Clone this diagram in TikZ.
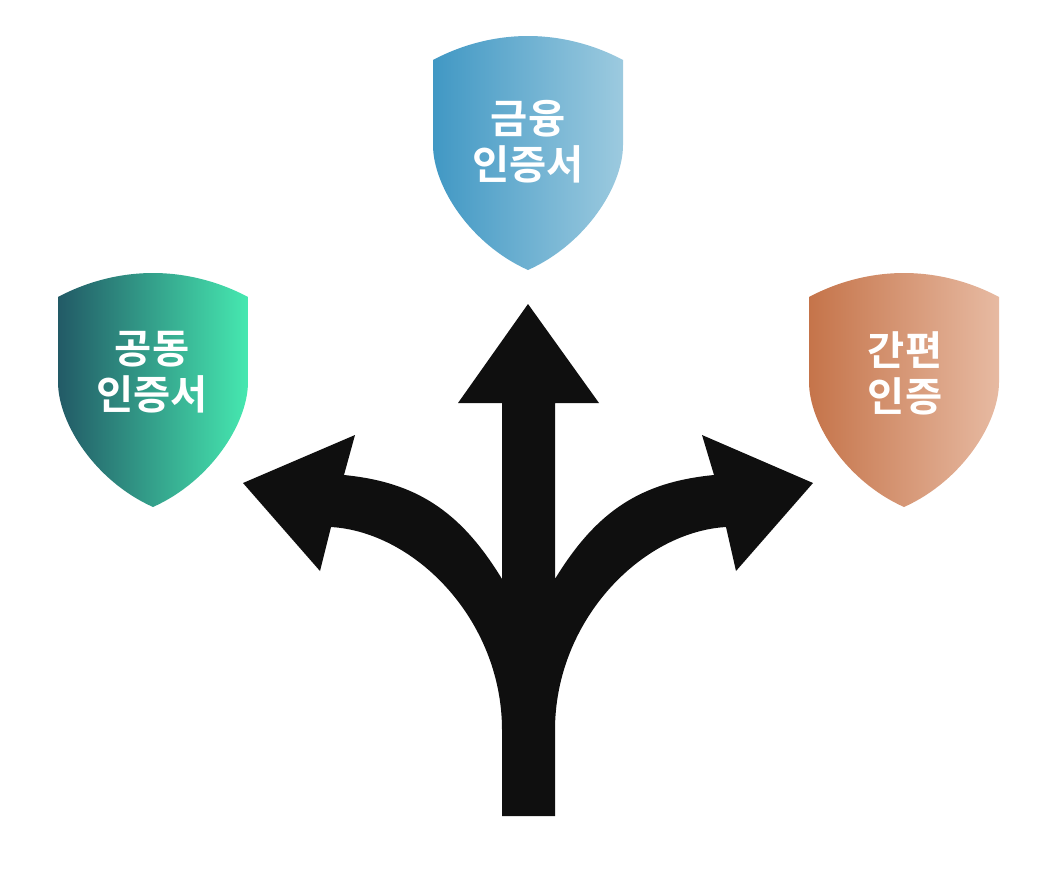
\documentclass[tikz,border=0pt]{standalone}
\usepackage{fontspec}
\setmainfont{Noto Sans CJK KR}[BoldFont={Noto Sans CJK KR Bold}]
\usepackage{xcolor}
\definecolor{arrowblack}{HTML}{0F0F0F}
\definecolor{greenL}{HTML}{225A66}
\definecolor{greenR}{HTML}{46E8B0}
\definecolor{blueL}{HTML}{4198C4}
\definecolor{blueR}{HTML}{9CCADF}
\definecolor{orangeL}{HTML}{C5744A}
\definecolor{orangeR}{HTML}{E7BAA2}
\newcommand{\shieldpath}{(-95,24) .. controls (-65,8) and (-32,0) .. (0,0) .. controls (32,0) and (65,8) .. (95,24) -- (95,109) .. controls (95,150) and (58,208) .. (0,234) .. controls (-58,208) and (-95,150) .. (-95,109) -- cycle}
\begin{document}
\begin{tikzpicture}[
x=0.02cm,y=-0.02cm,
label/.style={align=center,text=white,font=\fontsize{23}{26.2}\selectfont\bfseries},
arrow/.style={fill=arrowblack}
]
\useasboundingbox (0,0) rectangle (1057,883);
\shade[shift={(153,273)},left color=greenL,right color=greenR] \shieldpath;
\shade[shift={(528,36)},left color=blueL,right color=blueR] \shieldpath;
\shade[shift={(904,273)},left color=orangeL,right color=orangeR] \shieldpath;
\node[label] (public) at (152,372) {공동\\인증서};
\node[label] (finance) at (528,142) {금융\\인증서};
\node[label] (simple) at (905,373) {간편\\인증};
% three way arrow
\fill[arrow] (502,816) -- (502,730)
  .. controls (502,620) and (415,532) .. (331,527)
  -- (320,571) -- (243,483) -- (355,435) -- (344,475)
  .. controls (415,482) and (460,510) .. (502,579)
  -- (502,403) -- (458,403) -- (528,304) -- (599,403) -- (555,403) -- (555,579)
  .. controls (597,510) and (642,482) .. (714,475)
  -- (702,435) -- (813,483) -- (736,571) -- (726,527)
  .. controls (642,532) and (555,620) .. (555,730)
  -- (555,816) -- cycle;
\end{tikzpicture}
\end{document}
